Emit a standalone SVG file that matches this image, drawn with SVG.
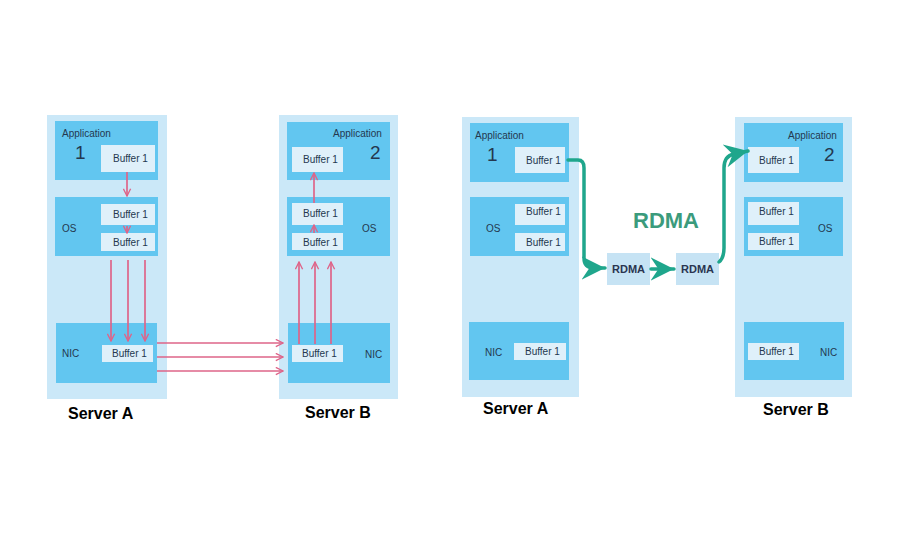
<svg xmlns="http://www.w3.org/2000/svg" width="915" height="547" viewBox="0 0 915 547">
<defs>
<style>
.outer{fill:#cbe8f8}
.inner{fill:#62c6f0}
.buf{fill:#dff0fa}
.rbox{fill:#c6e3f4}
text{font-family:"Liberation Sans",Arial,sans-serif;fill:#24384f}
.sm{font-size:10px}
.num{font-size:19px}
.lbl{font-size:16px;font-weight:bold;fill:#000}
.big{font-size:22px;font-weight:bold;fill:#3b9b7c}
.rd{font-size:11px;font-weight:bold;fill:#2a3550}
.pk{stroke:#de6489;stroke-width:1.7;fill:none}
.gr{stroke:#1fa68c;stroke-width:3.5;fill:none;stroke-linecap:round;stroke-linejoin:round}
</style>
<marker id="v" viewBox="0 0 10 10" refX="9" refY="5" markerWidth="9" markerHeight="9" orient="auto" markerUnits="userSpaceOnUse">
<path d="M1,1 L9,5 L1,9" fill="none" stroke="#de6489" stroke-width="1.5"/>
</marker>
<marker id="g" viewBox="0 0 20 20" refX="18" refY="10" markerWidth="26" markerHeight="26" orient="auto" markerUnits="userSpaceOnUse">
<path d="M0,1 L18,10 L0,19 L6,10 Z" fill="#1fa68c"/>
</marker>
</defs>

<!-- Left diagram: Server A -->
<g id="left-serverA">
<rect class="outer" x="47" y="115" width="120" height="284"/>
<rect class="inner" x="55" y="121" width="103" height="59"/>
<text class="sm" x="62" y="137">Application</text>
<text class="num" x="75" y="159">1</text>
<rect class="buf" x="101" y="145" width="54" height="27"/>
<text class="sm" x="113" y="162">Buffer 1</text>
<rect class="inner" x="55" y="197" width="103" height="59"/>
<text class="sm" x="62" y="232">OS</text>
<rect class="buf" x="101" y="204" width="54" height="21"/>
<text class="sm" x="113" y="218">Buffer 1</text>
<rect class="buf" x="101" y="233" width="54" height="18"/>
<text class="sm" x="113" y="246">Buffer 1</text>
<rect class="inner" x="56" y="323" width="101" height="60"/>
<text class="sm" x="62" y="357">NIC</text>
<rect class="buf" x="102" y="345" width="51" height="17"/>
<text class="sm" x="112" y="357">Buffer 1</text>
</g>
<text class="lbl" x="68" y="419">Server A</text>

<!-- Left diagram: Server B -->
<g id="left-serverB">
<rect class="outer" x="279" y="115" width="119" height="284"/>
<rect class="inner" x="287" y="122" width="103" height="58"/>
<text class="sm" x="333" y="137">Application</text>
<text class="num" x="370" y="159">2</text>
<rect class="buf" x="292" y="147" width="51" height="25"/>
<text class="sm" x="303" y="163">Buffer 1</text>
<rect class="inner" x="287" y="197" width="103" height="59"/>
<text class="sm" x="362" y="232">OS</text>
<rect class="buf" x="292" y="203" width="51" height="22"/>
<text class="sm" x="303" y="217">Buffer 1</text>
<rect class="buf" x="292" y="233" width="51" height="17"/>
<text class="sm" x="303" y="246">Buffer 1</text>
<rect class="inner" x="288" y="323" width="102" height="60"/>
<text class="sm" x="365" y="358">NIC</text>
<rect class="buf" x="292" y="345" width="51" height="17"/>
<text class="sm" x="302" y="357">Buffer 1</text>
</g>
<text class="lbl" x="305" y="418">Server B</text>

<!-- Right diagram: Server A -->
<g id="right-serverA">
<rect class="outer" x="462" y="117" width="117" height="280"/>
<rect class="inner" x="470" y="123" width="99" height="59"/>
<text class="sm" x="475" y="139">Application</text>
<text class="num" x="487" y="161">1</text>
<rect class="buf" x="515" y="147" width="50" height="26"/>
<text class="sm" x="526" y="164">Buffer 1</text>
<rect class="inner" x="470" y="197" width="99" height="59"/>
<text class="sm" x="486" y="232">OS</text>
<rect class="buf" x="515" y="204" width="50" height="21"/>
<text class="sm" x="526" y="215">Buffer 1</text>
<rect class="buf" x="515" y="233" width="50" height="18"/>
<text class="sm" x="526" y="246">Buffer 1</text>
<rect class="inner" x="469" y="322" width="100" height="58"/>
<text class="sm" x="485" y="356">NIC</text>
<rect class="buf" x="514" y="343" width="52" height="17"/>
<text class="sm" x="525" y="355">Buffer 1</text>
</g>
<text class="lbl" x="483" y="414">Server A</text>

<!-- Right diagram: Server B -->
<g id="right-serverB">
<rect class="outer" x="735" y="117" width="117" height="280"/>
<rect class="inner" x="744" y="123" width="99" height="59"/>
<text class="sm" x="788" y="139">Application</text>
<text class="num" x="824" y="161">2</text>
<rect class="buf" x="748" y="147" width="51" height="26"/>
<text class="sm" x="759" y="164">Buffer 1</text>
<rect class="inner" x="744" y="197" width="99" height="59"/>
<text class="sm" x="818" y="232">OS</text>
<rect class="buf" x="748" y="202" width="51" height="23"/>
<text class="sm" x="759" y="215">Buffer 1</text>
<rect class="buf" x="748" y="233" width="51" height="17"/>
<text class="sm" x="759" y="245">Buffer 1</text>
<rect class="inner" x="744" y="322" width="100" height="58"/>
<text class="sm" x="820" y="356">NIC</text>
<rect class="buf" x="748" y="343" width="51" height="17"/>
<text class="sm" x="759" y="355">Buffer 1</text>
</g>
<text class="lbl" x="763" y="415">Server B</text>

<g id="rdma-a">
<rect class="rbox" x="607" y="253" width="43" height="32"/>
<text class="rd" x="628.5" y="273" text-anchor="middle">RDMA</text>
</g>
<g id="rdma-b">
<rect class="rbox" x="676" y="253" width="43" height="32"/>
<text class="rd" x="697.5" y="273" text-anchor="middle">RDMA</text>
</g>
<text class="big" x="633" y="228">RDMA</text>

<!-- Connectors -->
<g id="connectors">
<line class="pk" x1="127" y1="172" x2="127" y2="196" marker-end="url(#v)"/>
<line class="pk" x1="127" y1="226" x2="127" y2="233" marker-end="url(#v)"/>
<line class="pk" x1="111" y1="260" x2="111" y2="341" marker-end="url(#v)"/>
<line class="pk" x1="128" y1="260" x2="128" y2="341" marker-end="url(#v)"/>
<line class="pk" x1="145" y1="260" x2="145" y2="341" marker-end="url(#v)"/>
<line class="pk" x1="157" y1="343" x2="283" y2="343" marker-end="url(#v)"/>
<line class="pk" x1="157" y1="357" x2="283" y2="357" marker-end="url(#v)"/>
<line class="pk" x1="157" y1="371" x2="283" y2="371" marker-end="url(#v)"/>
<line class="pk" x1="299" y1="344" x2="299" y2="262" marker-end="url(#v)"/>
<line class="pk" x1="315" y1="344" x2="315" y2="262" marker-end="url(#v)"/>
<line class="pk" x1="331" y1="344" x2="331" y2="262" marker-end="url(#v)"/>
<line class="pk" x1="314" y1="233" x2="314" y2="225" marker-end="url(#v)"/>
<line class="pk" x1="314" y1="203" x2="314" y2="173" marker-end="url(#v)"/>
<path class="gr" d="M568,160 L578,160 Q584,160 584,168 L584,258 Q584,268 594,268 L605,268" marker-end="url(#g)"/>
<path class="gr" d="M651,269 L674,269" marker-end="url(#g)"/>
<path class="gr" d="M719,262 Q724,258 724,248 L724,168 Q724,156 734,154 L748,151" marker-end="url(#g)"/>
</g>
</svg>
